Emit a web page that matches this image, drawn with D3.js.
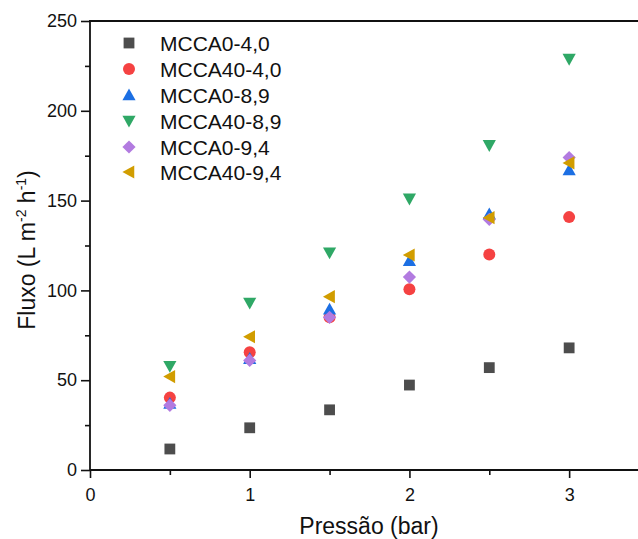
<!DOCTYPE html>
<html><head><meta charset="utf-8">
<script src="https://cdn.jsdelivr.net/npm/d3@7"></script>
<style>body{margin:0;background:#fff}svg{display:block}text{font-family:"Liberation Sans",Arial,sans-serif;fill:#111}</style>
</head><body>
<svg id="c" width="638" height="539"></svg>
<script>
const pressures = [0.5, 1.0, 1.5, 2.0, 2.5, 3.0];
const seriesNames = ["MCCA0-4,0","MCCA40-4,0","MCCA0-8,9","MCCA40-8,9","MCCA0-9,4","MCCA40-9,4"];
const mcca0_40  = [11.7, 23.5, 33.5, 47.3, 57.0, 68.0];
const mcca40_40 = [40.3, 65.5, 85.0, 100.6, 120.0, 140.8];
const mcca0_89  = [37.0, 62.0, 89.5, 116.5, 142.5, 167.0];
const mcca40_89 = [57.8, 93.0, 121.0, 151.0, 180.8, 228.8];
const mcca0_94  = [36.0, 61.0, 85.0, 107.4, 139.5, 174.0];
const mcca40_94 = [52.0, 74.2, 96.5, 119.7, 140.5, 171.0];
const xTicks = [0, 1, 2, 3];
const yTicks = [0, 50, 100, 150, 200, 250];

const allValues = [mcca0_40, mcca40_40, mcca0_89, mcca40_89, mcca0_94, mcca40_94];
const colors = ["#4d4d4d","#f54242","#1c6fe3","#2fa866","#b27be0","#d19d00"];
const shapes = ["square","circle","up","down","diamond","left"];

const svg = d3.select("#c");
const x = d3.scaleLinear().domain([0, 3.5]).range([90, 649]);
const y = d3.scaleLinear().domain([0, 250]).range([470, 21]);

function sym(g, shape, color, s) {
  if (shape === "square") g.append("rect").attr("x",-s*0.45).attr("y",-s*0.45).attr("width",s*0.9).attr("height",s*0.9).attr("fill",color);
  else if (shape === "circle") g.append("circle").attr("r",s*0.5).attr("fill",color);
  else {
    let p;
    const h = s*0.55;
    if (shape==="up") p=[[0,-h],[h,h*0.8],[-h,h*0.8]];
    if (shape==="down") p=[[0,h],[h,-h*0.8],[-h,-h*0.8]];
    if (shape==="left") p=[[-h,0],[h*0.8,-h],[h*0.8,h]];
    if (shape==="diamond") p=[[0,-h],[h,0],[0,h],[-h,0]];
    g.append("path").attr("d","M"+p.map(q=>q.join(",")).join("L")+"Z").attr("fill",color);
  }
}

// axes
const xAxis = d3.axisBottom(x).tickValues(xTicks).tickFormat(d3.format("d")).tickSize(8).tickPadding(10);
const xMinor = d3.axisBottom(x).tickValues([0.5,1.5,2.5,3.5]).tickFormat("").tickSize(5);
const yAxis = d3.axisLeft(y).tickValues(yTicks).tickSize(9).tickPadding(4);
const yMinor = d3.axisLeft(y).tickValues([25,75,125,175,225]).tickFormat("").tickSize(5);

function style(g){ g.selectAll("path,line").attr("stroke","#111").attr("stroke-width",1.6); g.select(".domain").remove(); g.selectAll("text").style("font-size","18px").attr("fill","#111"); }
svg.append("g").attr("transform","translate(0,470)").call(xAxis).call(style);
svg.append("g").attr("transform","translate(0,470)").call(xMinor).call(style);
svg.append("g").attr("transform","translate(90,0)").call(yAxis).call(style);
svg.append("g").attr("transform","translate(90,0)").call(yMinor).call(style);
// frame lines
svg.append("line").attr("x1",90).attr("x2",638).attr("y1",470).attr("y2",470).attr("stroke","#111").attr("stroke-width",1.8);
svg.append("line").attr("x1",90).attr("x2",90).attr("y1",21).attr("y2",471).attr("stroke","#111").attr("stroke-width",1.8);
svg.append("line").attr("x1",89).attr("x2",638).attr("y1",21).attr("y2",21).attr("stroke","#111").attr("stroke-width",1.8);

// titles
svg.append("text").attr("x",369).attr("y",534).attr("text-anchor","middle").style("font-size","23px").text("Pressão (bar)");
const yt = svg.append("text").attr("transform","translate(35,250) rotate(-90)").attr("text-anchor","middle").style("font-size","23px");
yt.append("tspan").text("Fluxo (L m");
yt.append("tspan").attr("dy",-9).style("font-size","14px").text("-2");
yt.append("tspan").attr("dy",9).text(" h");
yt.append("tspan").attr("dy",-9).style("font-size","14px").text("-1");
yt.append("tspan").attr("dy",9).text(")");

// points
allValues.forEach((vals,i)=>{
  vals.forEach((v,j)=>{
    const g = svg.append("g").attr("transform",`translate(${x(pressures[j])},${y(v)})`);
    sym(g, shapes[i], colors[i], 12);
  });
});

// legend
const ly = [43, 69, 95, 121, 147, 172];
seriesNames.forEach((n,i)=>{
  const g = svg.append("g").attr("transform",`translate(129,${ly[i]})`);
  sym(g, shapes[i], colors[i], 12);
  svg.append("text").attr("x",160).attr("y",ly[i]+7.5).style("font-size","21px").text(n);
});
</script>
</body></html>
